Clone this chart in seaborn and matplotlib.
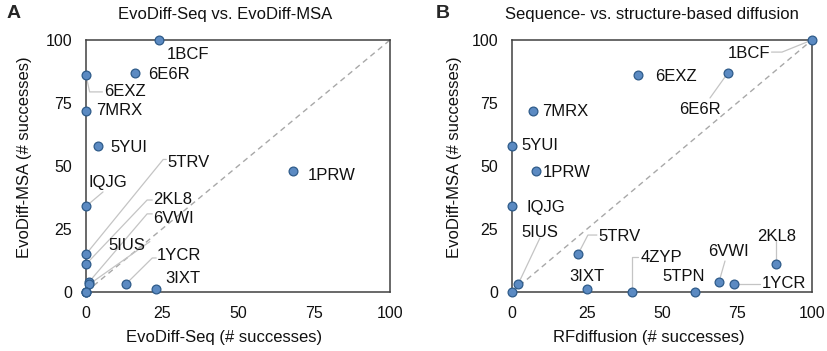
import numpy as np
import pandas as pd
import matplotlib
matplotlib.use("Agg")
import matplotlib.pyplot as plt
import seaborn as sns

sns.set_style("white")
plt.rcParams['font.family'] = ['Liberation Sans', 'DejaVu Sans']

# scaffolding problems (last one is unlabeled, sits at 0/0 in both panels)
proteins = ["1BCF", "6E6R", "6EXZ", "7MRX", "5YUI", "1PRW", "IQJG", "5TRV",
            "2KL8", "6VWI", "5IUS", "1YCR", "3IXT", "4ZYP", "5TPN", ""]
evodiff_seq = [24, 16, 0, 0, 4, 68, 0, 0, 0, 1, 1, 13, 23, 0, 0, 0]
evodiff_msa = [100, 87, 86, 72, 58, 48, 34, 15, 11, 4, 3, 3, 1, 0, 0, 0]
rfdiffusion = [100, 72, 42, 7, 0, 8, 0, 22, 88, 69, 2, 74, 25, 40, 61, 0]

ticks = [0, 25, 50, 75, 100]

# label placement (text left edge / vertical centre, data units)
labels_a = {
    "1BCF": (26.7, 94.4), "6E6R": (20.5, 86.5), "6EXZ": (5.9, 79.4),
    "7MRX": (3.3, 72.2), "5YUI": (7.9, 57.5), "1PRW": (73, 46.3),
    "5TRV": (26.7, 51.2), "IQJG": (0.7, 43.6), "2KL8": (22.1, 36.9),
    "6VWI": (22.1, 29.0), "5IUS": (7.3, 18.3), "1YCR": (23.4, 14.3),
    "3IXT": (26.0, 5.2),
}
leaders_a = {
    "6EXZ": [(1.2, 79.4), (5.4, 79.4)],
    "IQJG": [(5.6, 39.7)],
    "5TRV": [(25.4, 52.6), (26.4, 52.6)],
    "2KL8": [(20.1, 36.5), (21.8, 36.5)],
    "6VWI": [(20.1, 31.0), (21.8, 31.0)],
    "5IUS": [(21.0, 20.0)],
    "1YCR": [(21.8, 13.5), (23.1, 13.5)],
}
labels_b = {
    "1BCF": (72, 94.8), "6EXZ": (47.7, 85.7), "6E6R": (55.7, 72.6),
    "7MRX": (10, 71.8), "5YUI": (3, 58), "1PRW": (10.3, 47.6),
    "IQJG": (4.7, 33.7), "5IUS": (3, 23.8), "5TRV": (28.7, 22.2),
    "3IXT": (19, 6), "4ZYP": (43, 13.5), "5TPN": (50, 6.3),
    "6VWI": (65.3, 15.9), "1YCR": (83.3, 3.2), "2KL8": (81.7, 22.2),
}
leaders_b = {
    "1BCF": [(90, 95.2), (86.5, 95.2)],
    "6E6R": [(66, 77)],
    "5IUS": [(9.3, 21.4)],
    "5TRV": [(25.3, 22.6), (28.3, 22.6)],
    "4ZYP": [(40, 13.9), (41.9, 13.9)],
    "6VWI": [(71, 12.3)],
    "1YCR": [(76.5, 3), (82.7, 3)],
    "2KL8": [(88, 20.6)],
}

df = pd.DataFrame({"protein": proteins, "seq": evodiff_seq,
                   "msa": evodiff_msa, "rf": rfdiffusion})

fig = plt.figure(figsize=(8.27, 3.51), dpi=100)
ax_a = fig.add_axes([86 / 827, 59 / 351, 304 / 827, 252 / 351])
ax_b = fig.add_axes([512 / 827, 59 / 351, 300 / 827, 252 / 351])

spine_col = "#404040"
pt_col = "#5b8ac2"
edge_col = "#2e5b8a"
lead_col = "#c4c4c4"


def draw_panel(ax, xcol, labels, leaders, title, xlabel, title_x, lab_x):
    ax.plot([0, 100], [0, 100], ls=(0, (4, 3)), color="#a8a8a8", lw=1, zorder=1)
    for name, pts in leaders.items():
        row = df[df.protein == name].iloc[0]
        xs = [row[xcol]] + [p[0] for p in pts]
        ys = [row["msa"]] + [p[1] for p in pts]
        ax.plot(xs, ys, color=lead_col, lw=0.9, zorder=2, clip_on=False)
    sns.scatterplot(data=df, x=xcol, y="msa", ax=ax, color=pt_col,
                    edgecolor=edge_col, linewidth=0.9, s=40, zorder=3)
    ax.collections[-1].set_clip_on(False)
    for name, (tx, ty) in labels.items():
        ax.text(tx, ty, name, fontsize=12, va="center", ha="left", color="#111111")
    ax.set_xlim(0, 100)
    ax.set_ylim(0, 100)
    ax.set_xticks(ticks)
    ax.set_yticks(ticks)
    ax.tick_params(direction="out", length=4, width=1, colors=spine_col,
                   labelcolor="#111111", labelsize=11.5, pad=6)
    for sp in ax.spines.values():
        sp.set_visible(True)
        sp.set_color(spine_col)
        sp.set_linewidth(1.1)
    ax.set_xlabel(xlabel, fontsize=12, color="#111111")
    ax.set_ylabel("EvoDiff-MSA (# successes)", fontsize=12, color="#111111")
    ax.xaxis.set_label_coords(0.455, -0.15)
    ax.yaxis.set_label_coords(lab_x, 0.536)
    ax.text(title_x, 1.103, title, transform=ax.transAxes, fontsize=12,
            ha="center", va="center", color="#111111")


draw_panel(ax_a, "seq", labels_a, leaders_a, "EvoDiff-Seq vs. EvoDiff-MSA",
           "EvoDiff-Seq (# successes)", 0.457, -0.178)
draw_panel(ax_b, "rf", labels_b, leaders_b, "Sequence- vs. structure-based diffusion",
           "RFdiffusion (# successes)", 0.467, -0.167)

fig.text(14 / 827, 1 - 13 / 351, "A", fontsize=14, fontweight="bold",
         ha="center", va="center")
fig.text(443 / 827, 1 - 13 / 351, "B", fontsize=14, fontweight="bold",
         ha="center", va="center")

fig.savefig("out.png", dpi=100)
